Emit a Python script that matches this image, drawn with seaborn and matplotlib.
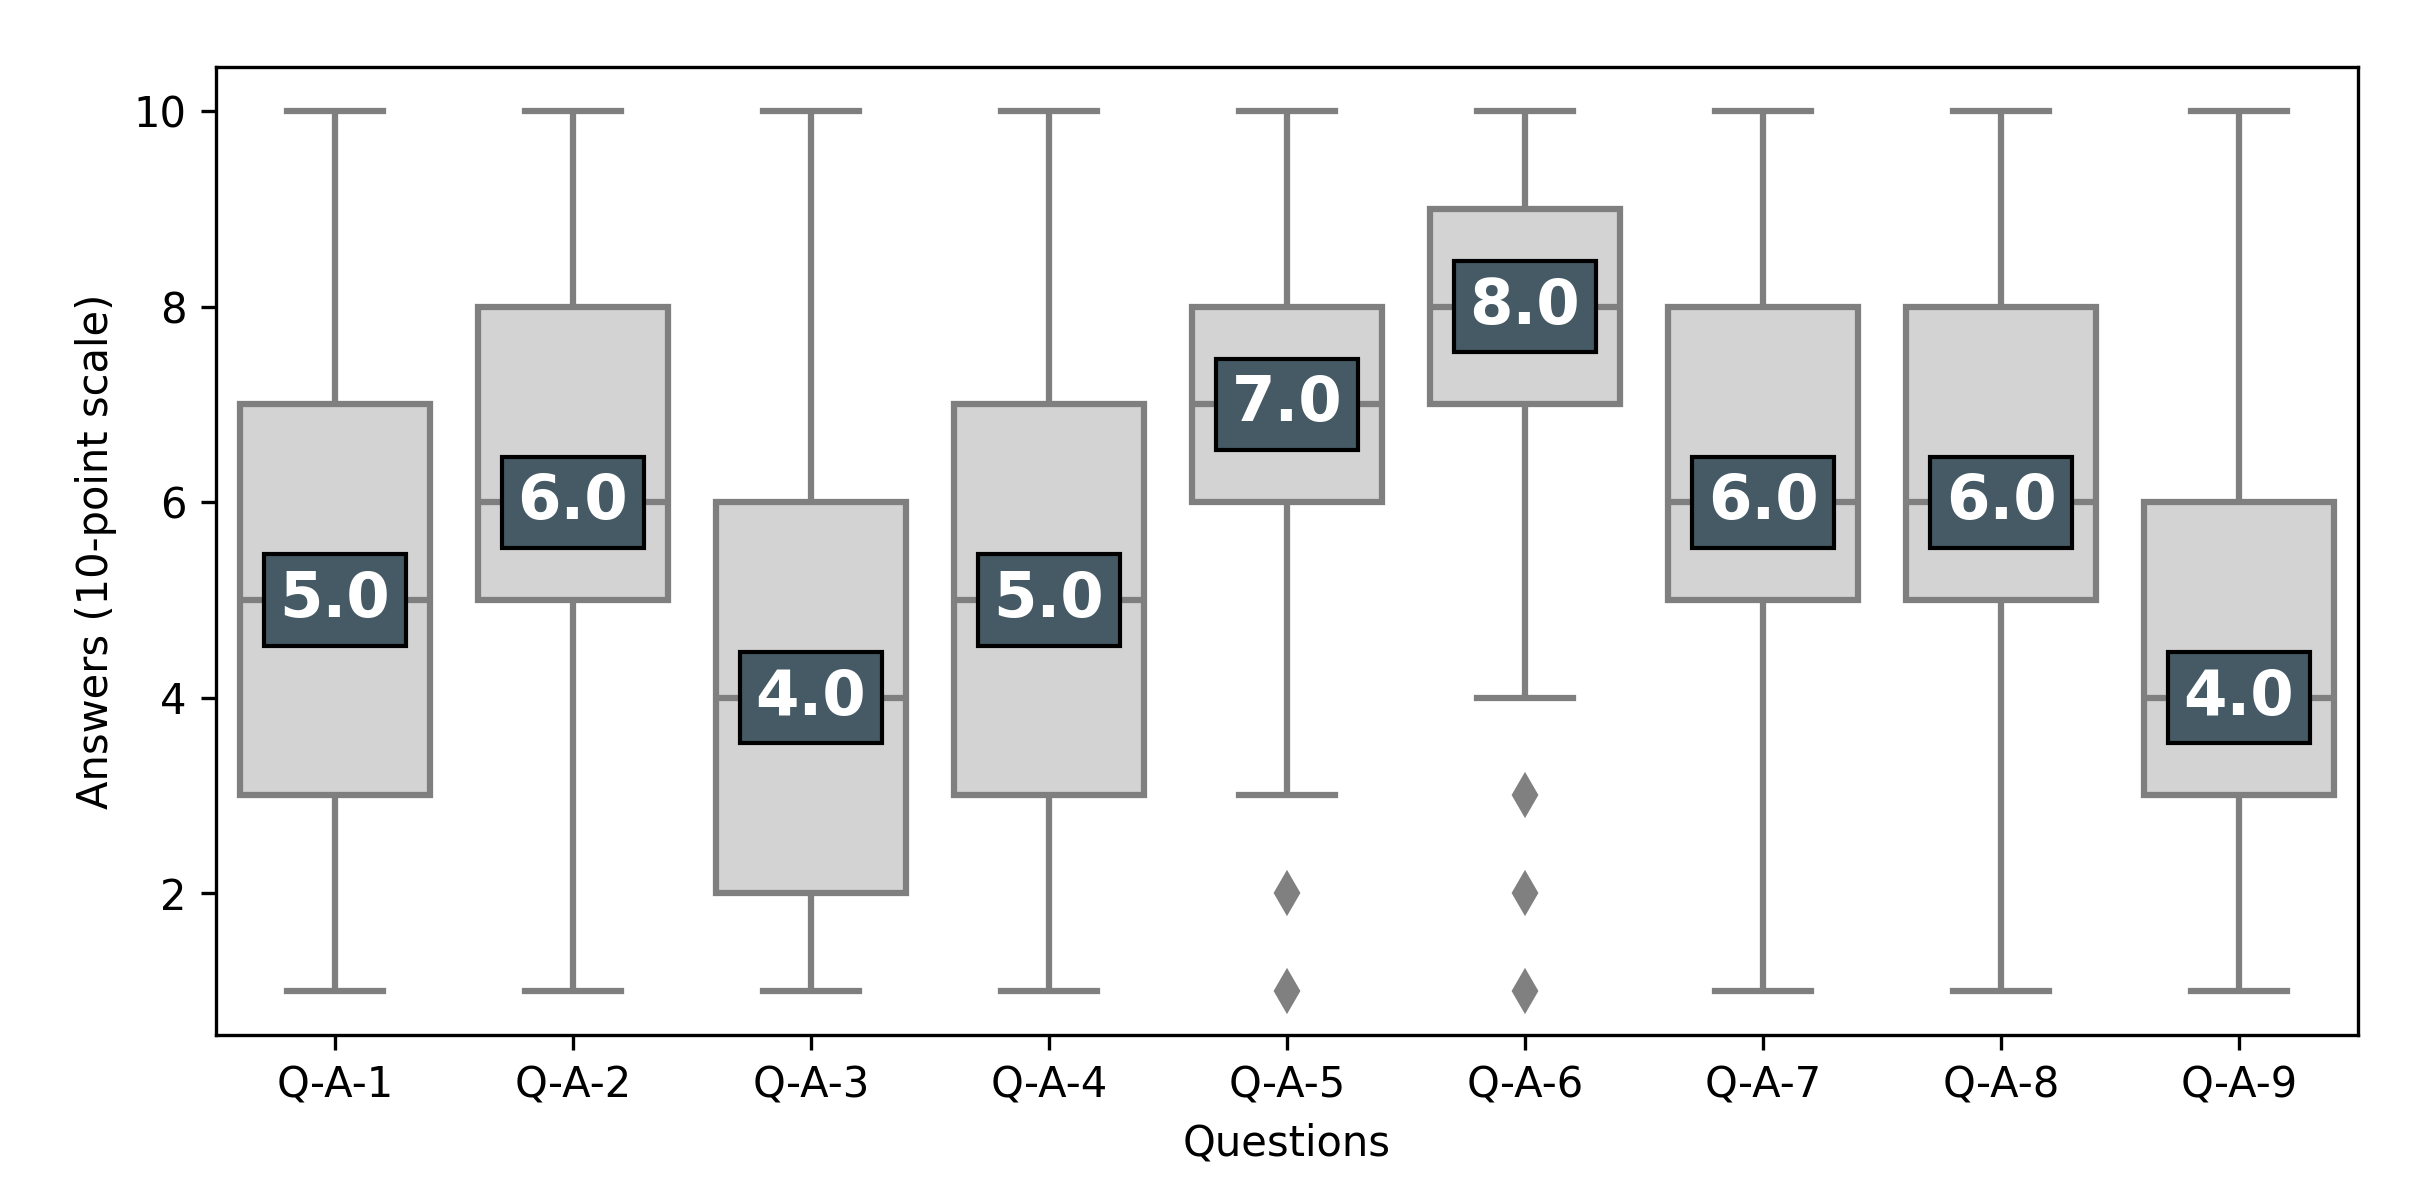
import matplotlib
matplotlib.use("Agg")
import matplotlib.pyplot as plt
import seaborn as sns
import pandas as pd

# answers per question (10-point scale)
questions = ["Q-A-1", "Q-A-2", "Q-A-3", "Q-A-4", "Q-A-5", "Q-A-6", "Q-A-7", "Q-A-8", "Q-A-9"]
qa1 = [1, 2, 3, 3, 3, 4, 4, 5, 5, 5, 6, 6, 7, 7, 8, 9, 10]
qa2 = [1, 3, 4, 5, 5, 5, 6, 6, 6, 6, 7, 7, 8, 8, 9, 9, 10]
qa3 = [1, 1, 2, 2, 2, 3, 3, 4, 4, 4, 5, 5, 6, 6, 7, 8, 10]
qa4 = [1, 2, 2, 3, 3, 4, 5, 5, 5, 5, 6, 7, 7, 7, 8, 9, 10]
qa5 = [1, 2, 3, 5, 6, 6, 7, 7, 7, 7, 7, 8, 8, 8, 9, 9, 10]
qa6 = [1, 2, 3, 4, 7, 7, 8, 8, 8, 8, 8, 9, 9, 9, 10, 10, 10]
qa7 = [1, 2, 4, 5, 5, 6, 6, 6, 6, 7, 7, 8, 8, 8, 9, 10, 10]
qa8 = [1, 3, 4, 4, 5, 5, 5, 6, 6, 7, 7, 7, 8, 9, 9, 9, 10]
qa9 = [1, 2, 3, 3, 3, 3, 4, 4, 4, 4, 5, 5, 6, 6, 7, 8, 10]

answers = [qa1, qa2, qa3, qa4, qa5, qa6, qa7, qa8, qa9]
df = pd.DataFrame({
    "Questions": [q for q, a in zip(questions, answers) for _ in a],
    "Answers": [v for a in answers for v in a],
})

fig, ax = plt.subplots(figsize=(8.0533, 4), dpi=300)
fig.subplots_adjust(left=0.0894, right=0.976, top=0.944, bottom=0.1375)

sns.boxplot(data=df, x="Questions", y="Answers", order=questions, ax=ax,
            color="lightgray", linecolor="gray", linewidth=1.5, width=0.8,
            flierprops=dict(marker="d", markerfacecolor="gray",
                            markeredgecolor="gray", markersize=6.5))

# median labels
medians = df.groupby("Questions")["Answers"].median().reindex(questions)
for i, m in enumerate(medians):
    ax.text(i, m, f"{m:.1f}", ha="center", va="center", color="white",
            fontsize=15, fontweight="bold",
            bbox=dict(facecolor="#455a64", edgecolor="black", boxstyle="square,pad=0.25"))

ax.set_xlabel("Questions")
ax.set_ylabel("Answers (10-point scale)")

fig.savefig("out.png", dpi=300)
